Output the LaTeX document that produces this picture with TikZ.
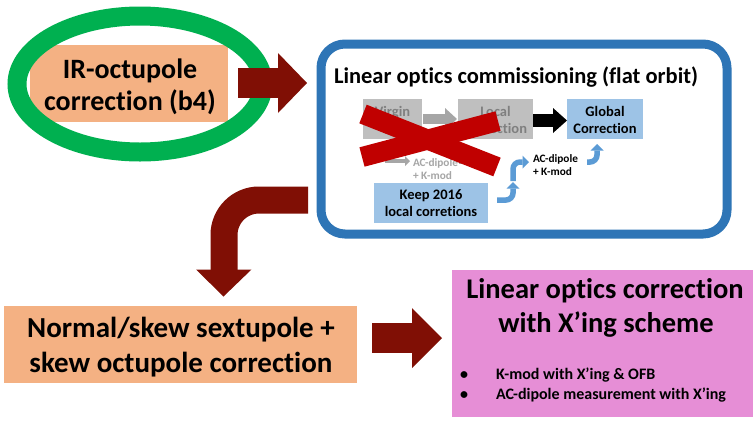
\documentclass[tikz,border=0pt]{standalone}
\usepackage{fontspec}
\setmainfont[Ligatures=NoCommon]{Carlito}
\usetikzlibrary{calc,arrows.meta,shapes.geometric}
\definecolor{darkred}{RGB}{128,15,5}
\definecolor{orangefill}{HTML}{F4B183}
\definecolor{ringgreen}{HTML}{00B050}
\definecolor{frameblue}{HTML}{2E75B6}
\definecolor{lightblue}{HTML}{9DC3E6}
\definecolor{arrowblue}{HTML}{5B9BD5}
\definecolor{greybox}{HTML}{BFBFBF}
\definecolor{greytext}{HTML}{7F7F7F}
\definecolor{greyarrow}{HTML}{A6A6A6}
\definecolor{crossred}{HTML}{C00000}
\definecolor{pinkfill}{HTML}{E68ED6}
\begin{document}
\begin{tikzpicture}[x=1pt,y=-1pt,
  every node/.style={inner sep=0pt,outer sep=0pt},
  plainbox/.style={rectangle,draw=none},
  bigtxt/.style={font=\fontsize{28}{32}\selectfont\bfseries,anchor=base},
  titletxt/.style={font=\fontsize{22.5}{26}\selectfont\bfseries,anchor=base},
  smalltxt/.style={font=\fontsize{14.5}{17}\selectfont\bfseries,anchor=base},
  tinytxt/.style={font=\fontsize{11.3}{13}\selectfont\bfseries,anchor=base west},
  bullettxt/.style={font=\fontsize{16}{20}\selectfont\bfseries,anchor=base west},
  fatarrow/.style={draw=darkred,line width=30pt,-{Triangle[line width=0pt,length=29pt,width=60pt]}},
  bluebent/.style={draw=arrowblue,line width=5.5pt,rounded corners=7pt,-{Triangle[line width=0pt,length=6.5pt,width=13pt]}},
]
\useasboundingbox (0,0) rectangle (756,421);
\fill[white] (0,0) rectangle (756,421);

% --- IR octupole box with green ring
\node[plainbox,fill=orangefill,minimum width=198pt,minimum height=77pt] (ir) at (129,83.5) {};
\node[bigtxt] (ir1) at (130,78) {IR-octupole};
\node[bigtxt] (ir2) at (130,110) {correction (b4)};
\node[ellipse,draw=ringgreen,line width=19pt,minimum width=246pt,minimum height=136pt] (ring) at (140,84) {};

% --- top fat arrow
\coordinate (a1s) at (238,83);
\coordinate (a1e) at (307,83);
\draw[fatarrow] (a1s) -- (a1e);

% --- linear optics commissioning frame
\node[rectangle,draw=frameblue,line width=9pt,rounded corners=24pt,minimum width=406pt,minimum height=190pt] (lin) at (524,139) {};
\node[titletxt] (lintitle) at (516,83) {Linear optics commissioning (flat orbit)};

\node[plainbox,fill=greybox,minimum width=59pt,minimum height=40pt] (virgin) at (392.5,119) {};
\node[smalltxt,text=greytext] (virgint) at (392.5,116) {Virgin};
\node[plainbox,fill=greybox,minimum width=75pt,minimum height=40pt] (local) at (495.5,119) {};
\node[smalltxt,text=greytext] (local1) at (495.5,116) {Local};
\node[smalltxt,text=greytext] (local2) at (495.5,133) {Correction};
\node[plainbox,fill=lightblue,minimum width=76pt,minimum height=40pt] (global) at (605,119) {};
\node[smalltxt] (global1) at (605,116) {Global};
\node[smalltxt] (global2) at (605,133) {Correction};
\node[plainbox,fill=lightblue,minimum width=114pt,minimum height=40pt] (keep) at (431,203) {};
\node[smalltxt] (keep1) at (431,199) {Keep 2016};
\node[smalltxt] (keep2) at (431,216) {local corretions};

% grey (obsolete) path
\coordinate (g1s) at (423,119);
\coordinate (g1e) at (457,119);
\draw[draw=greyarrow,line width=10pt,-{Triangle[line width=0pt,length=12pt,width=22pt]}] (g1s) -- (g1e);
\coordinate (g2s) at (385,161);
\coordinate (g2e) at (410,161);
\draw[draw=greyarrow,line width=4pt,-{Triangle[line width=0pt,length=5pt,width=10pt]}] (g2s) -- (g2e);
\coordinate (g3s) at (459,162);
\coordinate (g3e) at (478,162);
\draw[draw=greyarrow,line width=4pt] (g3s) -- (g3e);
\node[tinytxt,text=greyarrow] (gac1) at (413,166) {AC-dipole};
\node[tinytxt,text=greyarrow] (gac2) at (413,179) {+ K-mod};

% black arrow local -> global
\coordinate (k1s) at (533,120.5);
\coordinate (k1e) at (567,120.5);
\draw[draw=black,line width=13pt,-{Triangle[line width=0pt,length=14pt,width=25pt]}] (k1s) -- (k1e);

% red cross
\draw[crossred,line width=20pt] (363,114) -- (497,167);
\draw[crossred,line width=20pt] (362,157) -- (498,121);

% blue bent arrows
\coordinate (b1s) at (497,200);
\coordinate (b1e) at (513,182);
\draw[bluebent] (b1s) -| (b1e);
\coordinate (b2s) at (513,181);
\coordinate (b2e) at (529,162);
\draw[bluebent] (b2s) |- (b2e);
\node[tinytxt] (ac1) at (533,162) {AC-dipole};
\node[tinytxt] (ac2) at (533,175) {+ K-mod};
\coordinate (b3s) at (587,162);
\coordinate (b3e) at (597,144);
\draw[bluebent] (b3s) -| (b3e);

% --- bent fat arrow down
\coordinate (d1s) at (308,200);
\coordinate (d1e) at (224,270);
\draw[darkred,line width=27pt,rounded corners=35pt] (d1s) -| (d1e);
\fill[darkred] ($(d1e)+(-28,-0.5)$) -- ($(d1e)+(27.5,-0.5)$) -- ($(d1e)+(-0.5,26.5)$) -- cycle;

% --- bottom orange box
\node[plainbox,fill=orangefill,minimum width=353pt,minimum height=77pt] (nss) at (180.5,344.5) {};
\node[bigtxt,font=\fontsize{29}{35}\selectfont\bfseries] (nss1) at (181,337) {Normal/skew sextupole +};
\node[bigtxt,font=\fontsize{29}{35}\selectfont\bfseries] (nss2) at (181,372) {skew octupole correction};

% bottom fat arrow
\coordinate (a2s) at (372,338);
\coordinate (a2e) at (442,338);
\draw[fatarrow,-{Triangle[line width=0pt,length=30pt,width=60pt]}] (a2s) -- (a2e);

% --- pink box
\node[plainbox,fill=pinkfill,minimum width=301pt,minimum height=147pt] (pink) at (602.5,343.5) {};
\node[bigtxt,font=\fontsize{28.5}{34}\selectfont\bfseries] (p1) at (605,298) {Linear optics correction};
\node[bigtxt,font=\fontsize{28.5}{34}\selectfont\bfseries] (p2) at (606,332) {with X’ing scheme};
\node[bullettxt] (bu1) at (460,379) {•};
\node[bullettxt] (bt1) at (496,379) {K-mod with X’ing \& OFB};
\node[bullettxt] (bu2) at (460,399) {•};
\node[bullettxt] (bt2) at (496,399) {AC-dipole measurement with X’ing};
\end{tikzpicture}
\end{document}
